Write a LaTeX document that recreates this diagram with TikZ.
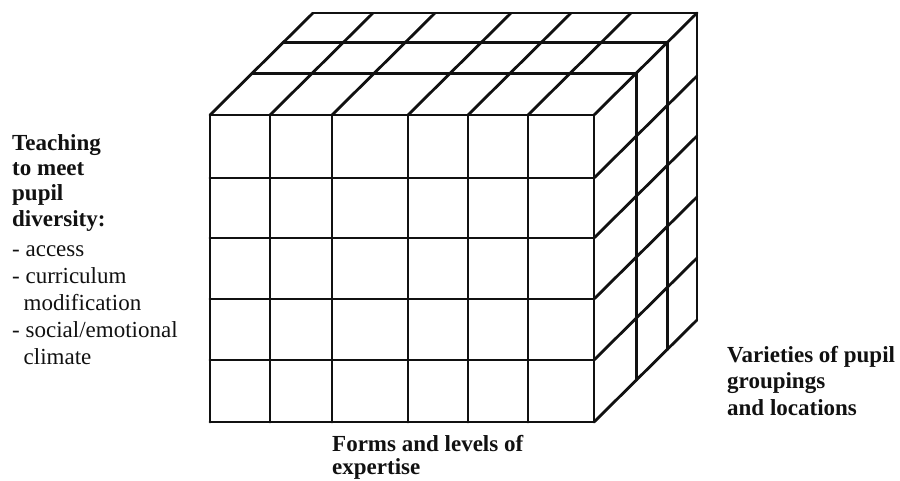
\documentclass[tikz,border=0pt]{standalone}
\usepackage{fontspec}
\setmainfont{Liberation Serif}
\usetikzlibrary{calc}
\definecolor{ink}{HTML}{111111}
\tikzset{
  cubeln/.style={draw=ink,line width=2.8pt,line cap=round,line join=round},
  axlab/.style={font=\fontsize{23}{24}\selectfont\bfseries,text=ink,align=left,anchor=base west,inner sep=0pt},
  keytxt/.style={font=\fontsize{23}{27}\selectfont,text=ink,align=left,anchor=base west,inner sep=0pt},
}

\begin{document}
\begin{tikzpicture}[x=1pt,y=-1pt]
\useasboundingbox (0,0) rectangle (900,480);

% ---------- cube: front face ----------
\foreach \cx in {210,270,332,408,468,528,594}
  \draw[cubeln] (\cx,115) -- (\cx,422);
\foreach \ry in {115,178,238,299,360,422}
  \draw[cubeln] (210,\ry) -- (594,\ry);

% ---------- cube: top face ----------
\foreach \cx in {210,270,332,408,468,528,594}
  \draw[cubeln] (\cx,115) -- ++(103,-102);
\foreach \d in {0.41,0.71,1}
  \draw[cubeln] ($(210,115)+\d*(103,-102)$) -- ($(594,115)+\d*(103,-102)$);

% ---------- cube: right face ----------
\foreach \ry in {178,238,299,360,422}
  \draw[cubeln] (594,\ry) -- ++(103,-102);
\foreach \d in {0.41,0.71,1}
  \draw[cubeln] ($(594,115)+\d*(103,-102)$) -- ($(594,422)+\d*(103,-102)$);

% ---------- axis labels (anchored at last baseline) ----------
\node[axlab,font=\fontsize{23}{25.3}\selectfont\bfseries] (diversity) at (12,226) {Teaching\\to meet\\pupil\\diversity:};
\node[keytxt] (aspects) at (12,364) {- access\\- curriculum\\\hspace*{0.5em}modification\\- social/emotional\\\hspace*{0.5em}climate};
\node[axlab,font=\fontsize{23}{26.5}\selectfont\bfseries] (groupings) at (727,415) {Varieties of pupil\\groupings\\and locations};
\node[axlab,font=\fontsize{23}{23}\selectfont\bfseries] (expertise) at (332,474) {Forms and levels of\\expertise};

\end{tikzpicture}
\end{document}
